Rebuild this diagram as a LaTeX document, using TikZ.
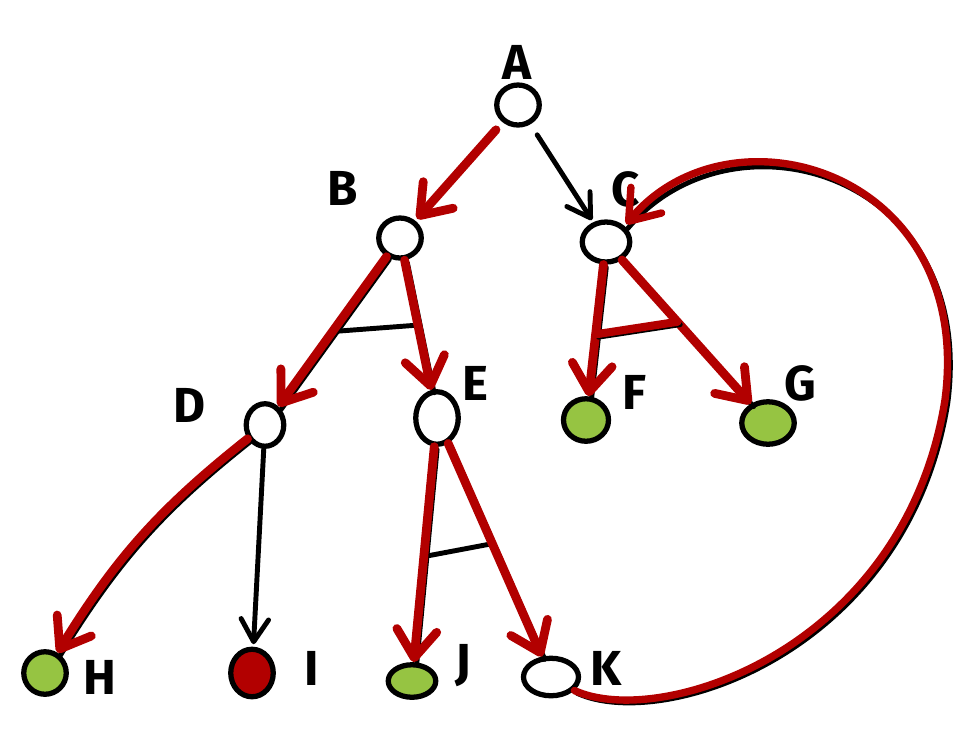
\documentclass[tikz,border=0pt]{standalone}
\usepackage{fontspec}
\setmainfont{Fira Sans}
\usetikzlibrary{arrows.meta, shapes.geometric}
\definecolor{pathred}{RGB}{178, 0, 0}
\definecolor{solvedgreen}{RGB}{150, 196, 66}

\begin{document}
\begin{tikzpicture}[x=0.2mm, y=0.2mm, font=\fontsize{28}{30}\selectfont\bfseries,
  state/.style={ellipse, draw, line width=3pt, inner sep=0pt, minimum width=8.5mm, minimum height=8.5mm},
  solved/.style={state, fill=solvedgreen},
  failed/.style={state, fill=pathred},
  tree/.style={line width=2.8pt, line cap=round},
  shadow/.style={tree, transform canvas={shift={(1.6pt,-1.6pt)}}},
  treearrow/.style={tree, -{Straight Barb[length=4.5mm, width=5.5mm, round]}},
  chosen/.style={pathred, line width=5pt, line cap=round, -{Straight Barb[length=5.5mm, width=8mm, round]}},
  andred/.style={pathred, line width=4.6pt, line cap=round}]
  \useasboundingbox (0,0) rectangle (978,-748);
  \node[state, minimum height=8mm] (A) at (518,-105) {};
  \node[state, minimum height=8mm] (B) at (400,-238) {};
  \node[state, minimum width=9.5mm, minimum height=8mm] (C) at (606,-242) {};
  \node[state, minimum width=7.5mm] (D) at (265,-425) {};
  \node[state, minimum height=10.5mm] (E) at (437,-418) {};
  \node[solved, minimum width=9mm] (F) at (586,-420) {};
  \node[solved, minimum width=10.5mm] (G) at (768,-423) {};
  \node[solved] (H) at (45,-673) {};
  \node[failed, minimum height=9.5mm] (I) at (252,-673) {};
  \node[solved, minimum width=9.5mm, minimum height=6.5mm] (J) at (412,-681) {};
  \node[state, minimum width=11mm, minimum height=7.5mm] (K) at (551,-677) {};
  \node (lA) at (517,-62) {A};
  \node (lB) at (343,-188) {B};
  \node (lC) at (626,-189) {C};
  \node (lD) at (190,-405) {D};
  \node (lE) at (475,-383) {E};
  \node (lF) at (634,-392) {F};
  \node (lG) at (800,-383) {G};
  \node (lH) at (100,-677) {H};
  \node (lI) at (312,-668) {I};
  \node (lJ) at (463,-666) {J};
  \node (lK) at (606,-668) {K};
  \draw[chosen, shorten <=2mm, shorten >=0.5mm] (A) -- (B);
  \draw[treearrow, shorten <=2.5mm, shorten >=0.5mm] (A) -- (C);
  \draw[shadow] (B) -- coordinate[pos=0.5] (bD) (D);
  \draw[shadow] (B) -- coordinate[pos=0.5] (bE) (E);
  \draw[tree] (bD) -- (bE);
  \draw[chosen] (B) -- (D);
  \draw[chosen] (B) -- (E);
  \draw[shadow] (C) -- coordinate[pos=0.53] (cF) (F);
  \draw[shadow] (C) -- coordinate[pos=0.43] (cG) (G);
  \draw[chosen] (C) -- (F);
  \draw[chosen] (C) -- (G);
  \draw[shadow] (cF) -- (cG);
  \draw[andred] (cF) -- (cG);
  \draw[shadow] (D) to[bend right=10] (H);
  \draw[chosen] (D) to[bend right=10] (H);
  \draw[treearrow, shorten >=0.5mm] (D) -- (I);
  \draw[shadow] (E) -- coordinate[pos=0.51] (eJ) (J);
  \draw[shadow] (E) -- coordinate[pos=0.47] (eK) (K);
  \draw[tree] (eJ) -- (eK);
  \draw[chosen] (E) -- (J);
  \draw[chosen] (E) -- (K);
  \draw[shadow] (K.-30) .. controls (660,-730) and (905,-650) .. (945,-400)
    .. controls (975,-170) and (730,-100) .. (C.north east);
  \draw[chosen, line width=4.2pt, shorten >=0.5mm] (K.-30) .. controls (660,-730) and (905,-650) .. (945,-400)
    .. controls (975,-170) and (730,-100) .. (C.north east);
\end{tikzpicture}
\end{document}
